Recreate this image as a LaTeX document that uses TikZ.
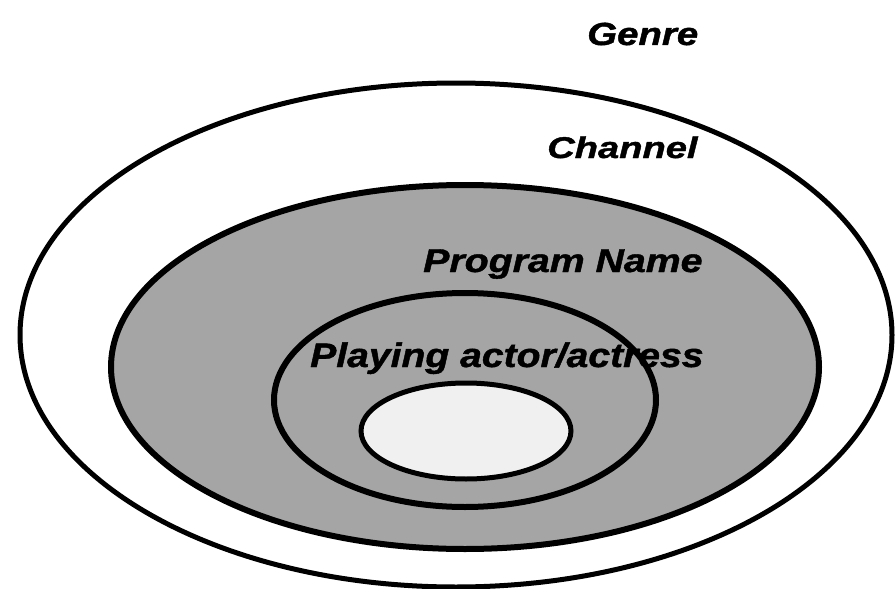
\documentclass[tikz,border=0pt]{standalone}
\usepackage{fontspec}
\setmainfont{Liberation Sans}[BoldItalicFeatures={FakeBold=1.2}]
\definecolor{dotgrey}{RGB}{165,165,165}
\definecolor{lightdot}{RGB}{240,240,240}
\begin{document}
\begin{tikzpicture}[x=1pt,y=-1pt,
  lbl/.style 2 args={font=\bfseries\itshape\fontsize{#1pt}{#1pt}\selectfont, inner sep=0pt, anchor=base west, xscale=#2, transform shape},
  ring/.style={draw=black, line width=#1}]
\useasboundingbox (0,0) rectangle (895,589);
\fill[white] (0,0) rectangle (895,589);
% Genre (outer) region
\draw[ring=5pt, fill=white] (456,335) ellipse [x radius=436pt, y radius=252pt];
% Program name region
\draw[ring=6pt, fill=dotgrey] (465,367) ellipse [x radius=354pt, y radius=182pt];
% Playing actor/actress region
\draw[ring=6pt, fill=dotgrey] (465,400) ellipse [x radius=191pt, y radius=107pt];
% innermost
\draw[ring=5pt, fill=lightdot] (466,431) ellipse [x radius=105pt, y radius=48pt];
% labels
\node[lbl={32}{1.2}] (genre) at (587,45) {Genre};
\node[lbl={30}{1.27}] (channel) at (547,158) {Channel};
\node[lbl={33}{1.19}] (program) at (423,272) {Program Name};
\node[lbl={34}{1.15}] (actor) at (310,367) {Playing actor/actress};
\end{tikzpicture}
\end{document}
